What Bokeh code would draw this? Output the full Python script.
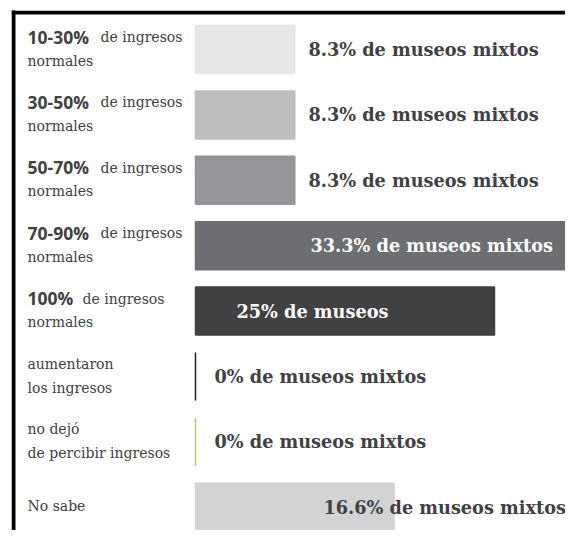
from bokeh.plotting import figure
from bokeh.models import ColumnDataSource, Range1d
from bokeh.embed import file_html
from bokeh.resources import INLINE
from bokeh.core.properties import value

# ---- data ----
bold_labels = ["10-30%", "30-50%", "50-70%", "70-90%", "100%", "", "", ""]
label_line1 = ["de ingresos", "de ingresos", "de ingresos", "de ingresos", "de ingresos",
               "aumentaron", "no dejó", "No sabe"]
label_line2 = ["normales", "normales", "normales", "normales", "normales",
               "los ingresos", "de percibir ingresos", ""]
values = [8.3, 8.3, 8.3, 33.3, 25, 0, 0, 16.6]
value_labels = ["8.3% de museos mixtos", "8.3% de museos mixtos", "8.3% de museos mixtos",
                "33.3% de museos mixtos", "25% de museos", "0% de museos mixtos",
                "0% de museos mixtos", "16.6% de museos mixtos"]

# ---- styles / layout ----
bar_colors = ["#e6e7e8", "#bcbec0", "#939598", "#6d6e71", "#414042", "#231f20", "#c9c27b", "#d1d3d4"]
text_colors = ["#414042", "#414042", "#414042", "#ffffff", "#ffffff", "#414042", "#414042", "#414042"]
value_x_offset = [113, 113, 113, 115, 41, 19, 19, 128]
serif_x_offset = [89, 89, 89, 89, 71, 16, 16, 16]

W, H = 565, 530
BL, BT = 11, 10          # frame inset (border position)
PX = 11.96               # pixels per percent
ROW = 65.4               # pixels per row
X_START = -(195 - BL) / PX
X_END = X_START + (W - BL) / PX
Y_TOP = -(49 - BT) / ROW
Y_BOTTOM = Y_TOP + (H - BT) / ROW

rows = list(range(len(values)))
two_line = [l2 != "" for l2 in label_line2]

src = ColumnDataSource(dict(
    y=rows, v=values, color=bar_colors, tcolor=text_colors, vlab=value_labels,
    vxo=value_x_offset, bold=bold_labels, l1=label_line1, l2=label_line2,
    sxo=serif_x_offset,
    l1yo=[-12.5 if t else -1 for t in two_line],
    lx=[X_START] * len(rows),
))

p = figure(width=W, height=H, output_backend="svg", toolbar_location=None,
           x_range=Range1d(X_START, X_END), y_range=Range1d(Y_BOTTOM, Y_TOP),
           x_axis_location=None, y_axis_location=None,
           min_border_left=BL, min_border_top=BT, min_border_right=0, min_border_bottom=0)
p.grid.visible = False
p.outline_line_color = None
p.background_fill_color = "white"
p.border_fill_color = "white"

p.hbar(y="y", left=0, right="v", height=48 / ROW, fill_color="color",
       line_color="color", line_width=1.5, source=src)

p.text(x=0, y="y", text="vlab", x_offset="vxo", y_offset=0, text_color="tcolor",
       text_font=value("DejaVu Serif"), text_font_style="bold", text_font_size="17.7px",
       text_baseline="alphabetic", source=src)

# category labels
p.text(x="lx", y="y", text="bold", x_offset=16, y_offset=-13, text_color="#414042",
       text_font=value("Open Sans"), text_font_style="bold", text_font_size="17.5px",
       text_baseline="alphabetic", source=src)
p.text(x="lx", y="y", text="l1", x_offset="sxo", y_offset="l1yo", text_color="#414042",
       text_font=value("DejaVu Serif"), text_font_size="14px",
       text_baseline="alphabetic", source=src)
p.text(x="lx", y="y", text="l2", x_offset=16, y_offset=11, text_color="#414042",
       text_font=value("DejaVu Serif"), text_font_size="14px",
       text_baseline="alphabetic", source=src)

# frame border (left and top)
p.quad(left=X_START, right=X_START + 4 / PX, top=Y_TOP - 1, bottom=Y_BOTTOM + 1,
       fill_color="black", line_color=None)
p.quad(left=X_START, right=X_END + 1, top=Y_TOP, bottom=Y_TOP + 4 / ROW,
       fill_color="black", line_color=None)

open("out.html", "w").write(file_html(p, INLINE))
